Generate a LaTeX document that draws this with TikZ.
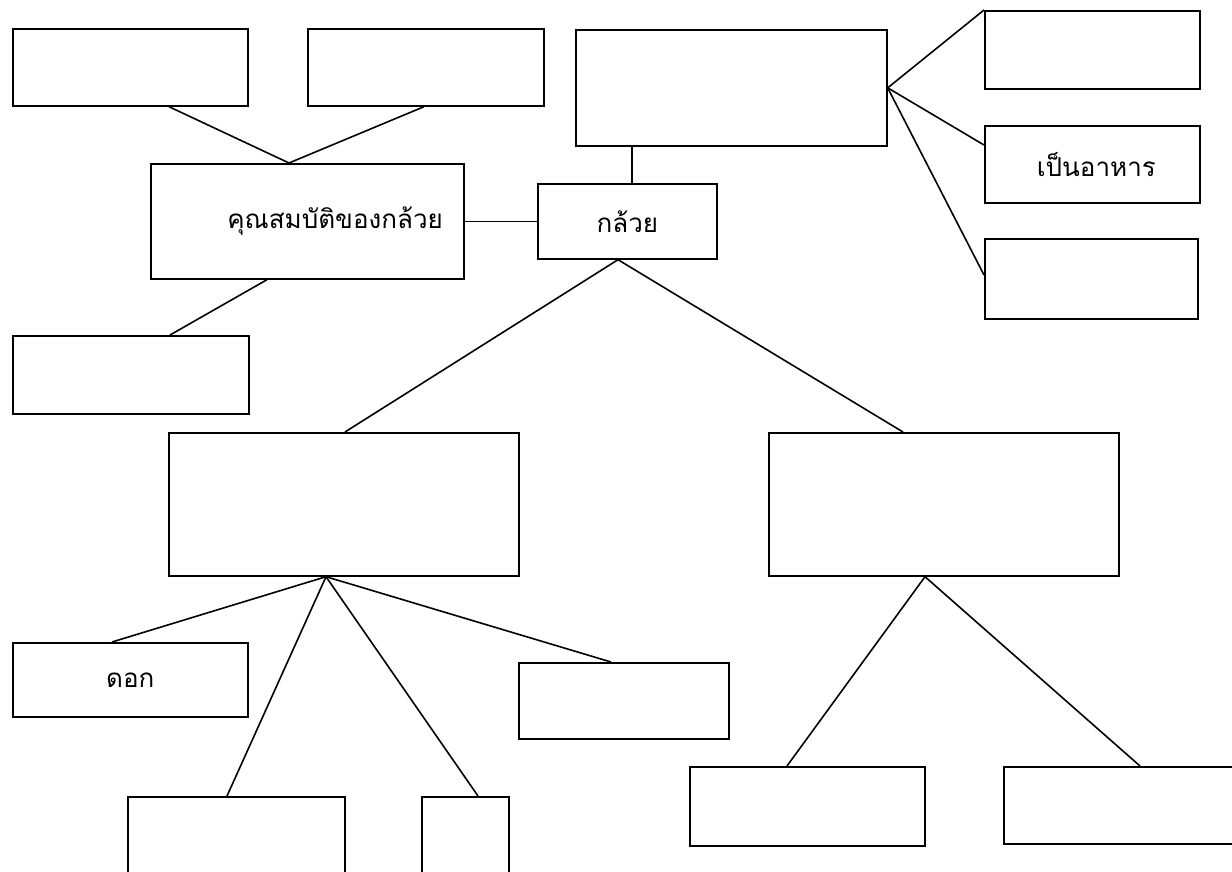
\documentclass[tikz,border=0pt]{standalone}
\usepackage{fontspec}
\newfontfamily\thaifont[Script=Thai]{Loma}
\begin{document}
\begin{tikzpicture}[x=1pt,y=-1pt,
    box/.style={draw,line width=1.7pt,rectangle,inner sep=0pt,anchor=north west,
      font=\thaifont\fontsize{26}{30}\selectfont},
    link/.style={line width=1.6pt}]
  \useasboundingbox (0,0) rectangle (1232,872);
  \clip (0,0) rectangle (1232,872);

  % properties branch (top left)
  \node[box,minimum width=235pt,minimum height=77pt] (propa) at (12,28) {};
  \node[box,minimum width=236pt,minimum height=77pt] (propb) at (307,28) {};
  \node[box,minimum width=313pt,minimum height=115pt,text width=271pt,align=right] (props) at (150,163) {คุณสมบัติของกล้วย};
  \node[box,minimum width=236pt,minimum height=78pt] (propc) at (12,335) {};

  % centre
  \node[box,minimum width=179pt,minimum height=75pt] (banana) at (537,183) {กล้วย};

  % uses (top right)
  \node[box,minimum width=311pt,minimum height=116pt] (use) at (575,29) {};
  \node[box,minimum width=215pt,minimum height=78pt] (usea) at (984,10) {};
  \node[box,minimum width=215pt,minimum height=77pt,text width=127pt,align=right] (food) at (984,125) {เป็นอาหาร};
  \node[box,minimum width=213pt,minimum height=80pt] (usec) at (984,238) {};

  % parts (bottom)
  \node[box,minimum width=350pt,minimum height=143pt] (parta) at (168,432) {};
  \node[box,minimum width=350pt,minimum height=143pt] (partb) at (768,432) {};
  \node[box,minimum width=235pt,minimum height=74pt] (flower) at (12,642) {ดอก};
  \node[box,minimum width=210pt,minimum height=76pt] (partc) at (518,662) {};
  \node[box,minimum width=217pt,minimum height=100pt] (partd) at (127,796) {};
  \node[box,minimum width=87pt,minimum height=100pt] (parte) at (421,796) {};
  \node[box,minimum width=235pt,minimum height=79pt] (partf) at (689,766) {};
  \node[box,minimum width=240pt,minimum height=77pt] (partg) at (1003,766) {};

  % connectors
  \draw[link] ([xshift=157pt]propa.south west) -- ([xshift=139pt]props.north west)
              -- ([xshift=117pt]propb.south west);
  \draw[link] ([xshift=117pt]props.south west) -- ([xshift=158pt]propc.north west);
  \draw[link] (props.east) -- (banana.west);
  \draw[link] ([xshift=95pt]banana.north west) -- ([xshift=57pt]use.south west);
  \draw[link] (usea.north west) -- (use.east) -- ([yshift=-20pt]food.north west);
  \draw[link] (use.east) -- ([yshift=-37pt]usec.north west);
  \draw[link] ([xshift=177pt]parta.north west) -- ([xshift=81pt]banana.south west)
              -- ([xshift=135pt]partb.north west);
  \foreach \target/\dx in {flower/100,partd/100,parte/57,partc/93}
    \draw[link] ([xshift=158pt]parta.south west) -- ([xshift=\dx pt]\target.north west);
  \draw[link] ([xshift=98pt]partf.north west) -- ([xshift=157pt]partb.south west)
              -- ([xshift=137pt]partg.north west);
\end{tikzpicture}
\end{document}
